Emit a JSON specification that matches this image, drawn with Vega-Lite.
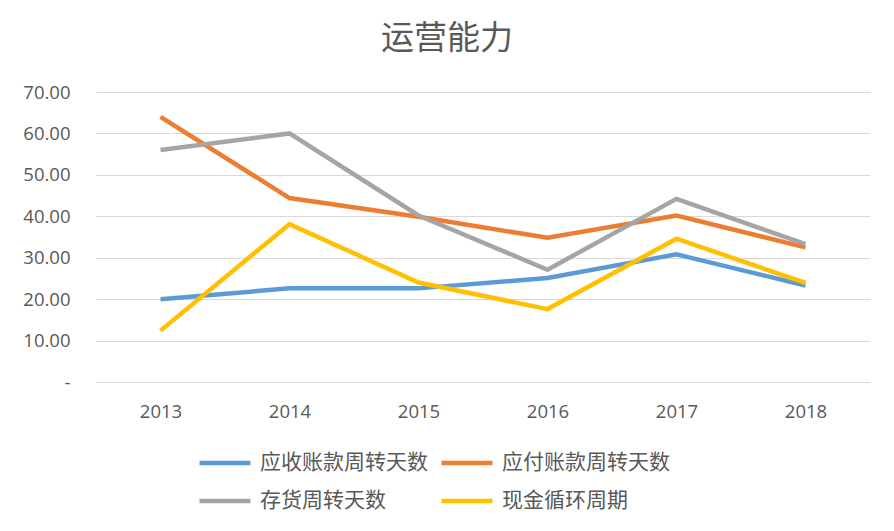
{
  "$schema": "https://vega.github.io/schema/vega-lite/v6.json",
  "autosize": {"type": "none"},
  "width": 774,
  "height": 290,
  "padding": {"left": 96, "top": 92, "right": 24, "bottom": 149},
  "background": "white",
  "title": {
    "text": "运营能力",
    "font": "Noto Sans CJK SC",
    "fontSize": 33,
    "fontWeight": "normal",
    "color": "#595959",
    "anchor": "middle",
    "dx": -36,
    "offset": 27
  },
  "data": {
    "values": [
      {"year": "2013", "series": "应收账款周转天数", "days": 20.0},
      {"year": "2014", "series": "应收账款周转天数", "days": 22.6},
      {"year": "2015", "series": "应收账款周转天数", "days": 22.6},
      {"year": "2016", "series": "应收账款周转天数", "days": 25.1},
      {"year": "2017", "series": "应收账款周转天数", "days": 30.8},
      {"year": "2018", "series": "应收账款周转天数", "days": 23.3},
      {"year": "2013", "series": "应付账款周转天数", "days": 64.0},
      {"year": "2014", "series": "应付账款周转天数", "days": 44.4},
      {"year": "2015", "series": "应付账款周转天数", "days": 39.9},
      {"year": "2016", "series": "应付账款周转天数", "days": 34.8},
      {"year": "2017", "series": "应付账款周转天数", "days": 40.2},
      {"year": "2018", "series": "应付账款周转天数", "days": 32.5},
      {"year": "2013", "series": "存货周转天数", "days": 56.0},
      {"year": "2014", "series": "存货周转天数", "days": 60.0},
      {"year": "2015", "series": "存货周转天数", "days": 40.2},
      {"year": "2016", "series": "存货周转天数", "days": 27.1},
      {"year": "2017", "series": "存货周转天数", "days": 44.2},
      {"year": "2018", "series": "存货周转天数", "days": 33.3},
      {"year": "2013", "series": "现金循环周期", "days": 12.4},
      {"year": "2014", "series": "现金循环周期", "days": 38.1},
      {"year": "2015", "series": "现金循环周期", "days": 24.0},
      {"year": "2016", "series": "现金循环周期", "days": 17.6},
      {"year": "2017", "series": "现金循环周期", "days": 34.6},
      {"year": "2018", "series": "现金循环周期", "days": 23.9}
    ]
  },
  "mark": {"type": "line", "strokeWidth": 4.5, "strokeCap": "butt", "strokeJoin": "miter"},
  "encoding": {
    "x": {
      "field": "year",
      "type": "ordinal",
      "scale": {"type": "point", "padding": 0.5},
      "axis": {
        "title": null,
        "labelAngle": 0,
        "domain": false,
        "ticks": false,
        "grid": false,
        "labelFont": "Open Sans",
        "labelFontSize": 18.5,
        "labelColor": "#595959",
        "labelPadding": 20
      }
    },
    "y": {
      "field": "days",
      "type": "quantitative",
      "scale": {"domain": [0, 70], "nice": false},
      "axis": {
        "title": null,
        "values": [0, 10, 20, 30, 40, 50, 60, 70],
        "labelExpr": "datum.value == 0 ? '-' : format(datum.value, '.2f')",
        "domain": false,
        "ticks": false,
        "grid": true,
        "gridColor": "#d9d9d9",
        "gridWidth": 1.2,
        "labelFont": "Open Sans",
        "labelFontSize": 18.5,
        "labelColor": "#595959",
        "labelPadding": 26
      }
    },
    "color": {
      "field": "series",
      "type": "nominal",
      "sort": ["应收账款周转天数", "应付账款周转天数", "存货周转天数", "现金循环周期"],
      "scale": {
        "domain": ["应收账款周转天数", "应付账款周转天数", "存货周转天数", "现金循环周期"],
        "range": ["#5B9BD5", "#ED7D31", "#A5A5A5", "#FFC000"]
      },
      "legend": {
        "title": null,
        "orient": "none",
        "legendX": 101,
        "legendY": 343,
        "direction": "horizontal",
        "columns": 2,
        "symbolType": "stroke",
        "symbolSize": 2600,
        "symbolStrokeWidth": 4.5,
        "labelFont": "Noto Sans CJK SC",
        "labelFontSize": 21,
        "labelColor": "#595959",
        "labelOffset": 7,
        "labelLimit": 300,
        "columnPadding": 4,
        "rowPadding": -11
      }
    }
  },
  "config": {"view": {"stroke": null}}
}
